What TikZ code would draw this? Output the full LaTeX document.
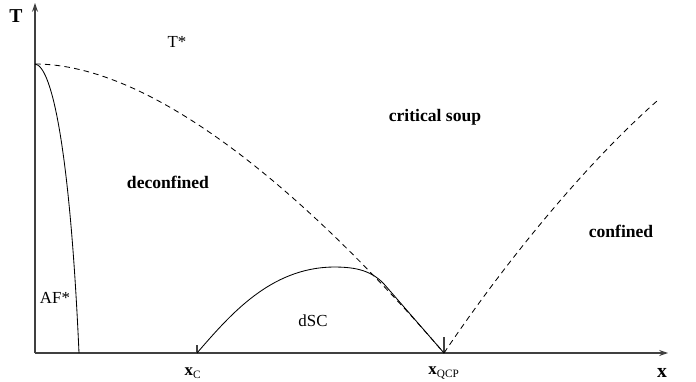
\documentclass[tikz,border=0pt]{standalone}
\usepackage{fontspec}
\setmainfont{Liberation Serif}
\usetikzlibrary{arrows.meta,positioning}

\begin{document}
\begin{tikzpicture}[x=0.025cm,y=-0.025cm,
  axis/.style={line width=0.9pt,black!75},
  line/.style={line width=0.6pt},
  crossover/.style={line width=0.6pt,dash pattern=on 4pt off 3pt},
  region/.style={font=\fontsize{12.5}{14}\selectfont\bfseries},
  phase/.style={font=\fontsize{12}{14}\selectfont},
  axlabel/.style={font=\fontsize{14}{16}\selectfont\bfseries,inner sep=0pt}]
\useasboundingbox (0,0) rectangle (696,381);
% axes
\coordinate (O) at (35,353);
\coordinate (ytop) at (35,3);
\coordinate (xend) at (668,353);
\draw[axis,-{Stealth[length=2.2mm,width=1.5mm]}] (O) -- (ytop);
\draw[axis,-{Stealth[length=2.2mm,width=1.5mm]}] (O) -- (xend);
\node[axlabel] (Tlab) at (16,16) {T};
\node[axlabel] (xlab) at (662,373) {x};
% special points
\coordinate (Tstar) at (35,64);
\coordinate (afend) at (79,353);
\coordinate (xc) at (197,353);
\coordinate (merge) at (384,284);
\coordinate (xqcp) at (444,353);
\coordinate (right) at (657,101);
\draw[axis] (xc) -- ++(0,-8);
\draw[axis] (xqcp) -- ++(0,-16);
\node[phase] (xclab) at (193,373) {\textbf{x}$_{\mathrm{C}}$};
\node[phase] (xqcplab) at (444,373) {\textbf{x}$_{\mathrm{QCP}}$};
% crossover lines
\draw[crossover] (Tstar) .. controls (150,64) and (300,186) .. (xqcp);
\draw[crossover] (xqcp) .. controls (510,255) and (590,160) .. (right);
% AF* boundary
\draw[line] (Tstar) .. controls (52,66) and (70,150) .. (afend);
% dSC dome
\draw[line] (xc) .. controls (230,315) and (270,268) .. (333,267)
  .. controls (352,267) and (370,269) .. (merge) -- (xqcp);
% labels
\node[phase] (Tstarlab) at (177,42) {T*};
\node[region] (soup) at (435,117) {critical soup};
\node[region] (deconf) at (168,182) {deconfined};
\node[region] (conf) at (621,231) {confined};
\node[phase] (af) at (55,298) {AF*};
\node[phase] (dsc) at (313,321) {dSC};
\end{tikzpicture}
\end{document}
